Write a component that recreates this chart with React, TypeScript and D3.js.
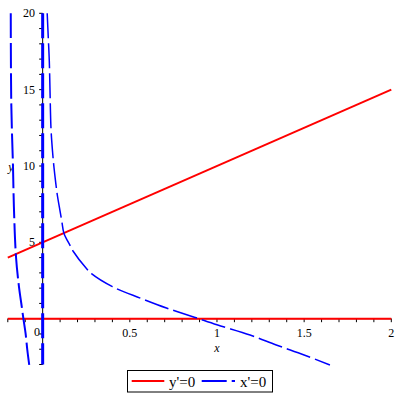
import React from "react";
import * as d3 from "d3";

// y'=0 nullclines
const yNullSlopedX = [-0.2, 2];
const yNullSlopedY = [4, 15];
const yNullFlatX = [-0.2, 2];
const yNullFlatY = [0, 0];

// x'=0 nullclines
const xNullAxisX = [0, 0];
const xNullAxisY = [20, -3];
const xNullMainX = [0.026, 0.032, 0.038, 0.042, 0.048, 0.057, 0.065, 0.075, 0.084, 0.099, 0.111, 0.122, 0.157, 0.176, 0.25, 0.28, 0.4, 0.56, 0.71, 0.87, 1.0, 1.19, 1.34, 1.5, 1.648];
const xNullMainY = [20, 18.45, 16.9, 15.0, 12.4, 10.9, 9.9, 8.9, 8.1, 7.1, 6.3, 5.6, 4.8, 4.4, 3.3, 2.95, 2.1, 1.35, 0.7, 0.1, -0.4, -1.07, -1.72, -2.38, -3.03];
const xNullLeftX = [-0.183, -0.18, -0.17, -0.165, -0.153, -0.136, -0.12, -0.111, -0.098, -0.088, -0.077];
const xNullLeftY = [20, 14.06, 9.87, 7.33, 4.06, 2.1, 0.79, 0.03, -0.96, -2.05, -3.03];

const xTickLabels = ["0.5", "1", "1.5", "2"];
const xTickValues = [0.5, 1, 1.5, 2];
const yTickLabels = ["5", "10", "15", "20"];
const yTickValues = [5, 10, 15, 20];
const legendLabels = ["y'=0", "x'=0"];

const FONT = "Liberation Serif";

export default function App() {
  const x = d3.scaleLinear().domain([-0.2, 2]).range([7.8, 391.3]);
  const y = d3.scaleLinear().domain([-3, 20]).range([364.5, 13.3]);

  const straight = d3
    .line<[number, number]>()
    .x((d) => x(d[0]))
    .y((d) => y(d[1]));
  const smooth = d3
    .line<[number, number]>()
    .x((d) => x(d[0]))
    .y((d) => y(d[1]))
    .curve(d3.curveCatmullRom);

  const zip = (a: number[], b: number[]) => a.map((v, i) => [v, b[i]] as [number, number]);

  const xMinor = d3.range(-2, 21).map((i) => i / 10);
  const yMinor = d3.range(-3, 21);

  const dash = "25,5";

  return (
    <svg width={400} height={400} style={{ position: "absolute", left: 0, top: 0, background: "#fff", fontFamily: FONT }}>
      {/* axes */}
      <line x1={x(0)} x2={x(0)} y1={y(-3)} y2={y(20)} stroke="#000" strokeWidth={1} />
      <line x1={x(-0.2)} x2={x(2)} y1={y(0)} y2={y(0)} stroke="#000" strokeWidth={1} />
      {xMinor.map((t, i) => (
        <line key={"xt" + i} x1={x(t)} x2={x(t)} y1={y(0)} y2={y(0) + 3.5} stroke="#000" strokeWidth={1} />
      ))}
      {yMinor.map((t, i) => (
        <line key={"yt" + i} x1={x(0) - 3.5} x2={x(0)} y1={y(t)} y2={y(t)} stroke="#000" strokeWidth={1} />
      ))}
      {xTickValues.map((t, i) => (
        <text key={"xl" + i} x={x(t)} y={337} textAnchor="middle" fontFamily={FONT} fontSize={12} fill="#000">
          {xTickLabels[i]}
        </text>
      ))}
      <text x={37} y={336} textAnchor="middle" fontFamily={FONT} fontSize={12} fill="#000">0</text>
      {yTickValues.map((t, i) => (
        <text key={"yl" + i} x={35} y={y(t) + 4} textAnchor="end" fontFamily={FONT} fontSize={12} fill="#000">
          {yTickLabels[i]}
        </text>
      ))}
      <text x={x(1)} y={352} textAnchor="middle" fontFamily={FONT} fontSize={12} fontStyle="italic" fill="#000">x</text>
      <text x={11} y={171} textAnchor="middle" fontFamily={FONT} fontSize={12} fontStyle="italic" fill="#000">y</text>

      {/* y'=0 */}
      <path d={straight(zip(yNullFlatX, yNullFlatY)) || ""} stroke="#ff0000" strokeWidth={2} fill="none" />
      <path d={straight(zip(yNullSlopedX, yNullSlopedY)) || ""} stroke="#ff0000" strokeWidth={2} fill="none" />

      {/* x'=0 */}
      <path d={straight(zip(xNullAxisX, xNullAxisY)) || ""} stroke="#0000ff" strokeWidth={3} fill="none" strokeDasharray={dash} />
      <path d={smooth(zip(xNullMainX, xNullMainY)) || ""} stroke="#0000ff" strokeWidth={1.5} fill="none" strokeDasharray={dash} />
      <path d={smooth(zip(xNullLeftX, xNullLeftY)) || ""} stroke="#0000ff" strokeWidth={2} fill="none" strokeDasharray={dash} />

      {/* legend */}
      <rect x={127.5} y={370.5} width={145} height={21.5} fill="#fff" stroke="#000" strokeWidth={1} />
      <line x1={131.7} x2={164.3} y1={381} y2={381} stroke="#ff0000" strokeWidth={2} />
      <text x={169} y={387} fontFamily={FONT} fontSize={15} fill="#000">{legendLabels[0]}</text>
      <line x1={201.7} x2={235} y1={381} y2={381} stroke="#0000ff" strokeWidth={2} strokeDasharray={dash} />
      <text x={240} y={387} fontFamily={FONT} fontSize={15} fill="#000">{legendLabels[1]}</text>
    </svg>
  );
}
